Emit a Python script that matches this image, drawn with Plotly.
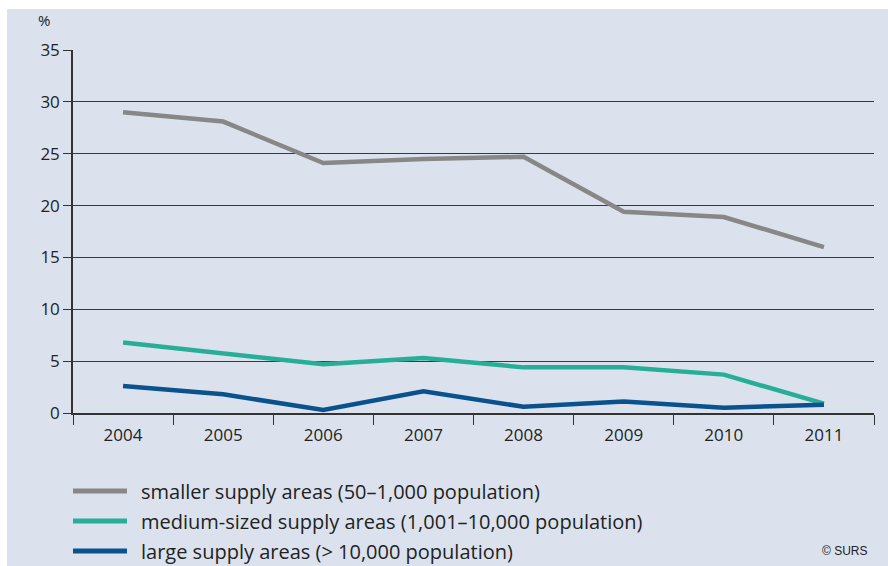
import plotly.graph_objects as go

# Share of samples by supply-area size, 2004-2011 (%)
years = ["2004", "2005", "2006", "2007", "2008", "2009", "2010", "2011"]
smaller = [29.0, 28.1, 24.1, 24.5, 24.7, 19.4, 18.9, 16.0]
medium = [6.8, 5.8, 4.7, 5.3, 4.4, 4.4, 3.7, 0.9]
large = [2.6, 1.8, 0.3, 2.1, 0.6, 1.1, 0.5, 0.8]

series_names = [
    "smaller supply areas (50–1,000 population)",
    "medium-sized supply areas (1,001–10,000 population)",
    "large supply areas (> 10,000 population)",
]
series_values = [smaller, medium, large]
series_colors = ["#878787", "#27ae97", "#0a528e"]

y_ticks = [0, 5, 10, 15, 20, 25, 30, 35]

BG = "#dbe2ee"
TXT = "#222222"
FONT = "Open Sans"

fig = go.Figure()
for name, vals, col in zip(series_names, series_values, series_colors):
    fig.add_trace(go.Scatter(
        x=years, y=vals, mode="lines", name=name,
        line=dict(color=col, width=4.5), showlegend=False,
    ))

# white strips along the top and left edges of the page
fig.add_shape(type="rect", xref="paper", yref="paper", x0=-0.2, x1=1.1,
              y0=1.113, y1=1.2, fillcolor="white", line_width=0, layer="below")
fig.add_shape(type="rect", xref="paper", yref="paper", x0=-0.2, x1=-0.0824,
              y0=-0.5, y1=1.2, fillcolor="white", line_width=0, layer="below")

# hand-built legend: line sample + label
for i, (name, col) in enumerate(zip(series_names, series_colors)):
    ypos = -0.215 - i * 0.0826
    fig.add_shape(type="line", xref="paper", yref="paper",
                  x0=0.0, x1=0.0674, y0=ypos, y1=ypos,
                  line=dict(color=col, width=5))
    fig.add_annotation(xref="paper", yref="paper", x=0.083, y=ypos,
                       text=name, showarrow=False, xanchor="left",
                       yanchor="middle", font=dict(size=20, color=TXT, family=FONT))

fig.add_annotation(xref="paper", yref="paper", x=-0.036, y=1.083, text="%",
                   showarrow=False, xanchor="center", yanchor="middle",
                   font=dict(size=15, color=TXT, family=FONT))
fig.add_annotation(xref="paper", yref="paper", x=0.995, y=-0.38, text="© SURS",
                   showarrow=False, xanchor="right", yanchor="middle",
                   font=dict(size=12, color=TXT, family="Liberation Sans"))

fig.update_layout(
    width=888, height=566,
    margin=dict(l=73, r=14, t=50, b=153, autoexpand=False),
    paper_bgcolor=BG, plot_bgcolor=BG,
    font=dict(family=FONT, size=17, color=TXT),
    xaxis=dict(
        type="category", range=[-0.5, 7.5], tickson="boundaries",
        ticks="outside", ticklen=10, ticklabelstandoff=6,
        tickcolor="#333333", tickwidth=1, showgrid=False, showline=True,
        linecolor="#333333", linewidth=1.5, zeroline=False,
        tickfont=dict(size=17, color=TXT), fixedrange=True,
    ),
    yaxis=dict(
        range=[0, 35], tickvals=y_ticks, ticks="outside", ticklen=8,
        tickcolor="#333333", showgrid=True, gridcolor="#3a3a3a", gridwidth=1,
        showline=True, linecolor="#333333", linewidth=1.5, zeroline=False,
        tickfont=dict(size=17, color=TXT), fixedrange=True,
    ),
)

fig.write_html("out.html")
